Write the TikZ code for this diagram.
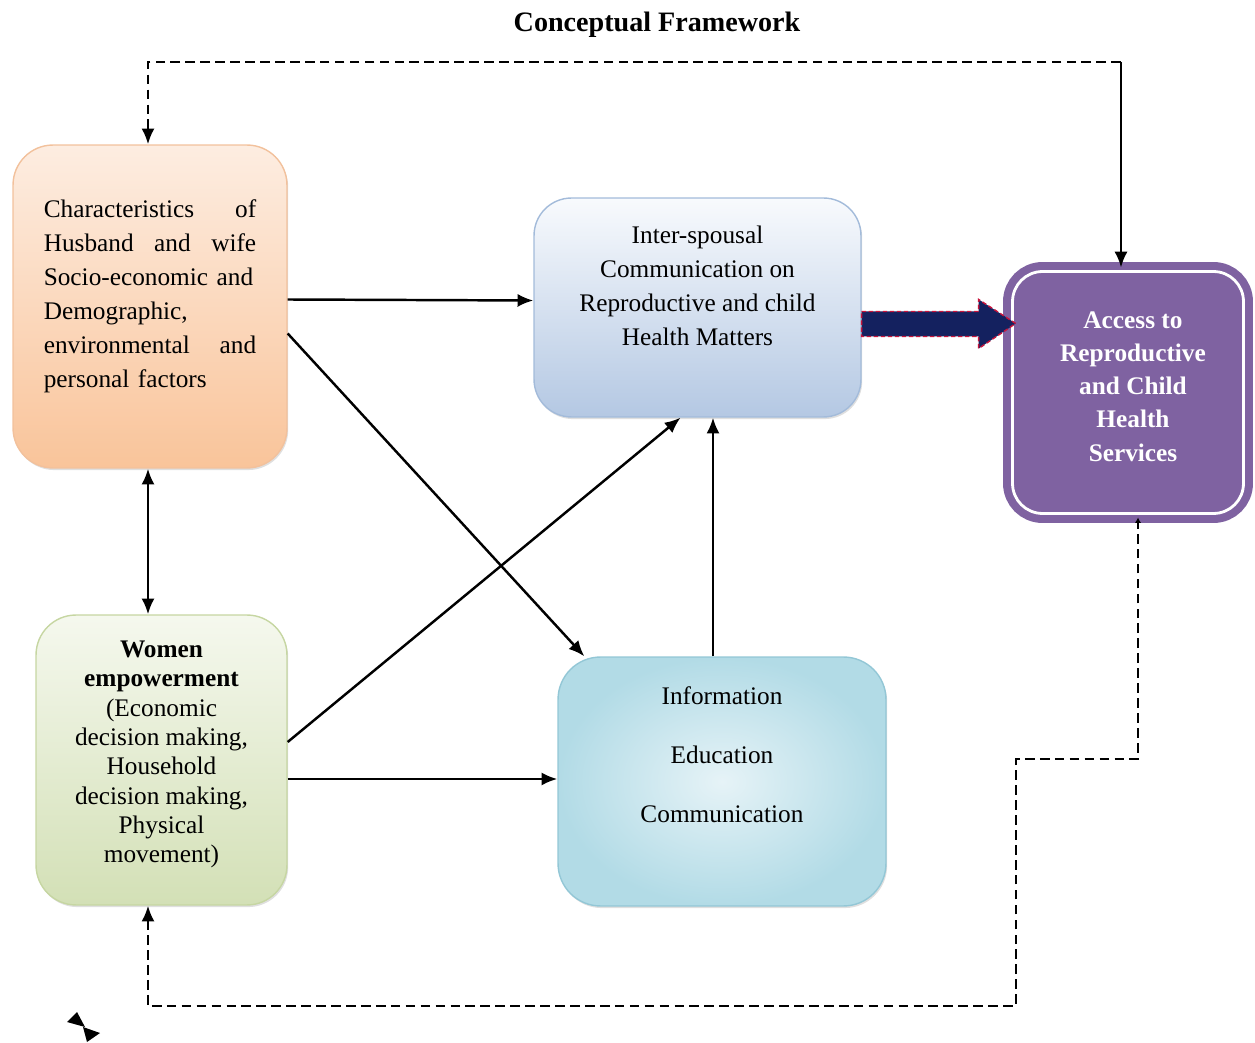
\documentclass[tikz,border=0pt]{standalone}
\usepackage{fontspec}
\setmainfont{Liberation Serif}
\usetikzlibrary{positioning,arrows.meta,calc,shadows}
\definecolor{charTop}{HTML}{FDEDE1}
\definecolor{charBot}{HTML}{F9C49A}
\definecolor{charLine}{HTML}{F2C19C}
\definecolor{intTop}{HTML}{F8FAFD}
\definecolor{intBot}{HTML}{B4C8E3}
\definecolor{intLine}{HTML}{A3BBDA}
\definecolor{womTop}{HTML}{F5F8EE}
\definecolor{womBot}{HTML}{D3E0B6}
\definecolor{womLine}{HTML}{C6D6A2}
\definecolor{iecIn}{HTML}{E6F3F7}
\definecolor{iecOut}{HTML}{B2DBE6}
\definecolor{iecLine}{HTML}{93C7D6}
\definecolor{accFill}{HTML}{7F62A1}
\definecolor{fatNavy}{HTML}{14215F}
\definecolor{fatRed}{HTML}{C8143C}

\begin{document}
\begin{tikzpicture}[x=0.02cm, y=-0.02cm,
  every node/.style = {font=\fontsize{14.4pt}{19.3pt}\selectfont},
  box/.style = {draw, rectangle, rounded corners=0.8cm, line width=0.8pt,
    drop shadow={opacity=0.25, shadow xshift=0.7pt, shadow yshift=-1.2pt}},
  arr/.style = {line width=1.4pt, -{Latex[length=9pt,width=7.5pt]}},
  arrboth/.style = {line width=1.4pt, {Latex[length=9pt,width=7.5pt]}-{Latex[length=9pt,width=7.5pt]}},
  dsh/.style = {arr, dash pattern=on 5.5pt off 3pt}
]
\useasboundingbox (0,0) rectangle (1255,1043);

\node[font=\fontsize{16pt}{19pt}\selectfont\bfseries] (title) at (657,25) {Conceptual Framework};

\node[box, draw=charLine, top color=charTop, bottom color=charBot,
  minimum width=5.48cm, minimum height=6.46cm] (char) at (150,306.5) {};
\node[align=left, text width=4.25cm] (chartxt) at ([yshift=0.2cm]char.center)
  {Characteristics\hfill of\\ Husband\hfill and\hfill wife\\ Socio-economic and\\
   Demographic,\\ environmental\hfill and\\ personal factors};

\node[box, draw=intLine, top color=intTop, bottom color=intBot, rounded corners=0.75cm,
  minimum width=6.54cm, minimum height=4.38cm] (inter) at (697.5,307.5) {};
\node[align=center] (intertxt) at ([yshift=0.43cm]inter.center)
  {Inter-spousal\\ Communication on\\ Reproductive and child\\ Health Matters};

\node[box, draw=womLine, top color=womTop, bottom color=womBot,
  minimum width=5.02cm, minimum height=5.8cm] (women) at (161.5,760) {};
\node[align=center, font=\fontsize{14.4pt}{16.7pt}\selectfont] (womtxt) at ([yshift=0.11cm]women.center)
  {\textbf{Women}\\ \textbf{empowerment}\\ (Economic\\ decision making,\\ Household\\
   decision making,\\ Physical\\ movement)};

\node[box, draw=iecLine, inner color=iecIn, outer color=iecOut, rounded corners=0.85cm,
  minimum width=6.56cm, minimum height=4.98cm] (iec) at (722,781.5) {};
\node[align=center, font=\fontsize{14.4pt}{33.7pt}\selectfont] (iectxt) at ([yshift=0.54cm]iec.center)
  {Information\\ Education\\ Communication};

\node[draw=accFill, fill=accFill, line width=4.6pt, double=white, double distance=1.6pt,
  rounded corners=0.6cm, minimum width=4.62cm, minimum height=4.84cm] (access) at (1128,392.5) {};
\node[align=center, text=white, font=\fontsize{14.4pt}{18.9pt}\selectfont\bfseries] (acctxt)
  at ([xshift=0.1cm,yshift=0.12cm]access.center)
  {Access to\\ Reproductive\\ and Child\\ Health\\ Services};

\draw[draw=fatRed, fill=fatNavy, line width=0.8pt, dash pattern=on 2.5pt off 1.5pt]
  ($(inter.east)+(0,4)$) -- ++(117,0) -- ++(0,-12) -- ++(37,24) -- ++(-37,25)
  -- ++(0,-12) -- ++(-117,0) -- cycle;

\draw[arr] ([yshift=0.14cm]char.east) -- ([yshift=0.14cm]inter.west);
\draw[arr] ([yshift=-0.54cm]char.east) -- ([xshift=0.54cm]iec.north west);
\draw[arr] ([yshift=0.36cm]women.east) -- ([xshift=-0.34cm]inter.south);
\draw[arr] ([yshift=-0.38cm]women.east) coordinate (w2) -- (w2 -| iec.west);
\draw[arr] ([xshift=-0.18cm]iec.north) -- ([xshift=-0.18cm]iec.north |- inter.south);
\draw[arrboth] ([xshift=-0.04cm]char.south) -- ([xshift=-0.04cm]char.south |- women.north);

\coordinate (topR) at (1121,62);
\draw[dsh] (topR) -| ([xshift=-0.04cm]char.north);
\draw[arr] (topR) -- (topR |- access.north);

\coordinate (jogA) at (1016,1006);
\coordinate (jogB) at (1138,759);
\draw[dsh, {Latex[length=9pt,width=7.5pt]}-{Latex[length=3pt,width=3.5pt]}]
  ([xshift=-0.27cm]women.south) |- (jogA) |- (jogB) -- (jogB |- access.south);

\fill (77,1012) -- (67,1022) -- (85,1027) -- cycle;
\fill (83,1027) -- (87,1042) -- (100,1033) -- cycle;
\end{tikzpicture}
\end{document}
